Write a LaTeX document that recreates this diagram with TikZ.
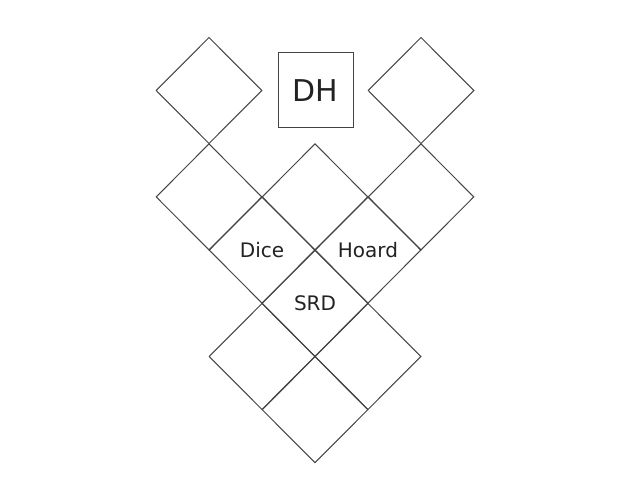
\documentclass[tikz,border=0pt]{standalone}
\usepackage{fontspec}
\setmainfont{DejaVu Sans}
\usetikzlibrary{shapes.geometric}
\definecolor{edge}{HTML}{444444}
\definecolor{ink}{HTML}{222222}
\begin{document}
\begin{tikzpicture}[x=1pt,y=-1pt,
  cell/.style={diamond,draw=edge,line width=1pt,inner sep=0pt,minimum width=106pt,minimum height=106.4pt,aspect=1,text=ink,font=\fontsize{20}{24}\selectfont},
  boxed/.style={rectangle,draw=edge,line width=1pt,minimum size=75pt,inner sep=0pt,text=ink,font=\fontsize{30}{36}\selectfont}]
\useasboundingbox (0,0) rectangle (630,500);
\node[cell] (tl) at (209,90.5) {};
\node[cell] (tr) at (421,90.5) {};
\node[boxed] (dh) at (315.5,90.5) {DH};
\node[cell] (r2a) at (209,196.9) {};
\node[cell] (r2b) at (315,196.9) {};
\node[cell] (r2c) at (421,196.9) {};
\node[cell] (dice) at (262,250.1) {Dice};
\node[cell] (hoard) at (368,250.1) {Hoard};
\node[cell] (srd) at (315,303.3) {SRD};
\node[cell] (r5a) at (262,356.5) {};
\node[cell] (r5b) at (368,356.5) {};
\node[cell] (bot) at (315,409.7) {};
\end{tikzpicture}
\end{document}
